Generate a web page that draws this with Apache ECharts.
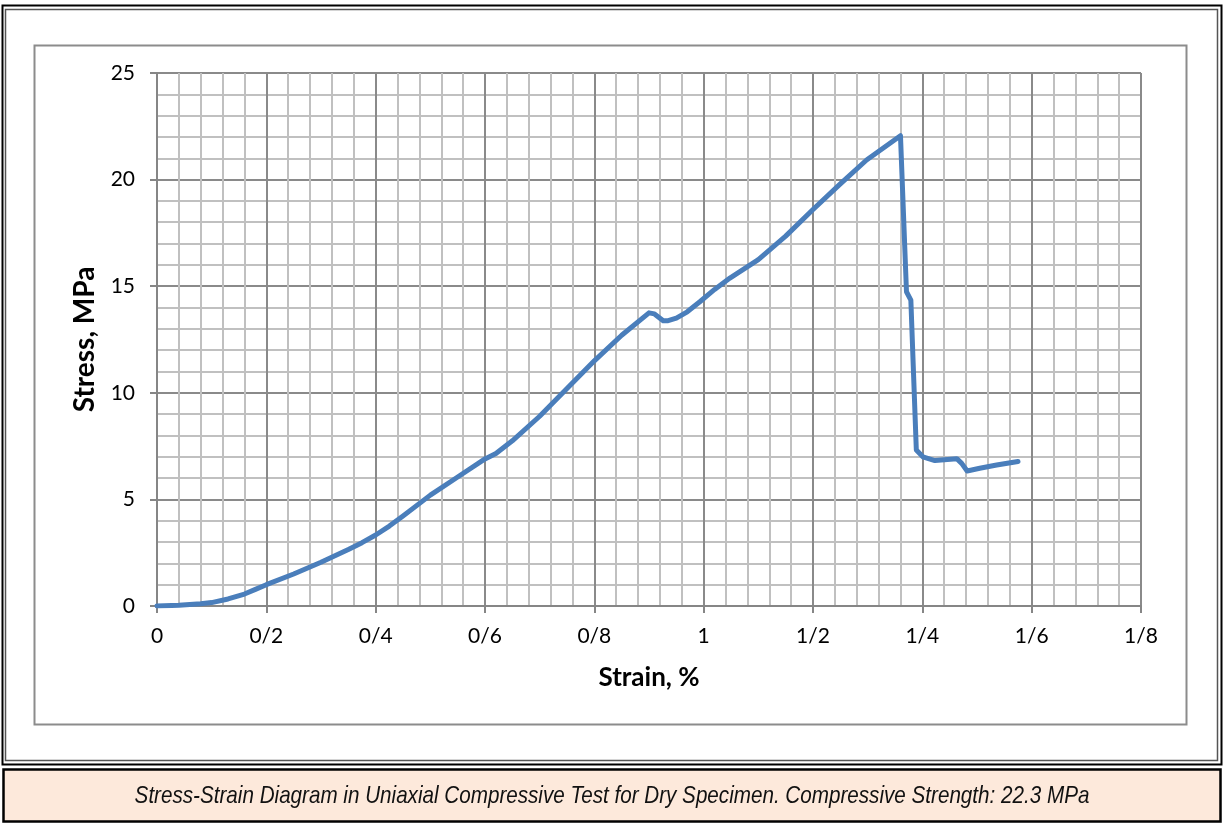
<!DOCTYPE html>
<html>
<head>
<meta charset="utf-8">
<script src="https://cdn.jsdelivr.net/npm/echarts@6/dist/echarts.min.js"></script>
<style>
html,body{margin:0;padding:0;background:#fff;}
#chart{width:1225px;height:824px;}
</style>
</head>
<body>
<div id="chart"></div>
<script>
// Data
const strain = [0, 0.04, 0.08, 0.1, 0.13, 0.16, 0.18, 0.2, 0.25, 0.3, 0.35, 0.375, 0.4, 0.425, 0.45, 0.5, 0.55, 0.6, 0.62, 0.65, 0.7, 0.75, 0.8, 0.85, 0.9, 0.91, 0.926, 0.935, 0.95, 0.97, 0.993, 1.02, 1.048, 1.1, 1.15, 1.2, 1.25, 1.298, 1.36, 1.371, 1.379, 1.389, 1.401, 1.423, 1.463, 1.472, 1.482, 1.505, 1.536, 1.575];
const stress = [0, 0.04, 0.11, 0.16, 0.33, 0.56, 0.78, 1.0, 1.5, 2.05, 2.65, 2.97, 3.33, 3.75, 4.22, 5.2, 6.05, 6.9, 7.15, 7.75, 8.9, 10.2, 11.5, 12.7, 13.75, 13.7, 13.38, 13.38, 13.5, 13.8, 14.27, 14.85, 15.38, 16.25, 17.35, 18.6, 19.8, 20.92, 22.06, 14.74, 14.35, 7.32, 7.0, 6.82, 6.91, 6.69, 6.33, 6.46, 6.61, 6.78];
const xTickStep = 0.2;
const yTickStep = 5;
const xTitle = 'Strain, %';
const yTitle = 'Stress, MPa';
const caption = 'Stress-Strain Diagram in Uniaxial Compressive Test for Dry Specimen. Compressive Strength: 22.3 MPa';

const points = strain.map((s, i) => [s, stress[i]]);
const tickFont = 'Lato, Carlito, Calibri, sans-serif';
const fmtX = v => String(Math.round(v * 10) / 10).replace('.', '/');

const chart = echarts.init(document.getElementById('chart'));
chart.setOption({
  animation: false,
  backgroundColor: '#fff',
  grid: { left: 157, top: 73, right: 84, bottom: 218, containLabel: false },
  xAxis: {
    type: 'value', min: 0, max: 1.8, interval: xTickStep,
    name: xTitle, nameLocation: 'middle', nameGap: 59,
    nameTextStyle: { fontFamily: tickFont, fontWeight: 'bold', fontSize: 26, color: '#000' },
    axisLine: { show: true, onZero: false, lineStyle: { color: '#868686', width: 2 } },
    axisTick: { show: true, inside: false, length: 7, lineStyle: { color: '#868686', width: 2 } },
    axisLabel: { formatter: fmtX, fontFamily: tickFont, fontSize: 21, color: '#000', margin: 20 },
    splitLine: { show: true, lineStyle: { color: '#8a8a8a', width: 2 } },
    minorTick: { show: false, splitNumber: 5 },
    minorSplitLine: { show: true, lineStyle: { color: '#c0c0c0', width: 2 } }
  },
  yAxis: {
    type: 'value', min: 0, max: 25, interval: yTickStep,
    name: yTitle, nameLocation: 'middle', nameGap: 58,
    nameTextStyle: { fontFamily: tickFont, fontWeight: 'bold', fontSize: 28, color: '#000' },
    axisLine: { show: true, onZero: false, lineStyle: { color: '#868686', width: 2 } },
    axisTick: { show: true, inside: false, length: 7, lineStyle: { color: '#868686', width: 2 } },
    axisLabel: { fontFamily: tickFont, fontSize: 21, color: '#000', margin: 22 },
    splitLine: { show: true, lineStyle: { color: '#8a8a8a', width: 2 } },
    minorTick: { show: false, splitNumber: 5 },
    minorSplitLine: { show: true, lineStyle: { color: '#c0c0c0', width: 2 } }
  },
  graphic: [
    { type: 'rect', shape: { x: 2.5, y: 5.5, width: 1219, height: 759 }, style: { fill: 'none', stroke: '#000', lineWidth: 2 }, z: -10 },
    { type: 'rect', shape: { x: 5.5, y: 9.5, width: 1212, height: 751 }, style: { fill: 'none', stroke: '#555', lineWidth: 1.5 }, z: -10 },
    { type: 'rect', shape: { x: 34.5, y: 45.5, width: 1152, height: 679 }, style: { fill: 'none', stroke: '#8c8c8c', lineWidth: 2 }, z: -10 },
    { type: 'rect', shape: { x: 3.5, y: 769.5, width: 1217, height: 52 }, style: { fill: '#fde9db', stroke: '#000', lineWidth: 2.5 }, z: -10 },
    { type: 'text', x: 612, y: 796, scaleX: 0.86, scaleY: 1,
      style: { text: caption, textAlign: 'center', textVerticalAlign: 'middle', font: 'italic 24px "Liberation Sans", Arial, sans-serif', fill: '#111' }, z: 10 }
  ],
  series: [{
    type: 'line', data: points, showSymbol: false, smooth: false,
    lineStyle: { color: '#4a7ebb', width: 5, cap: 'round', join: 'round' },
    z: 5
  }]
});
</script>
</body>
</html>
